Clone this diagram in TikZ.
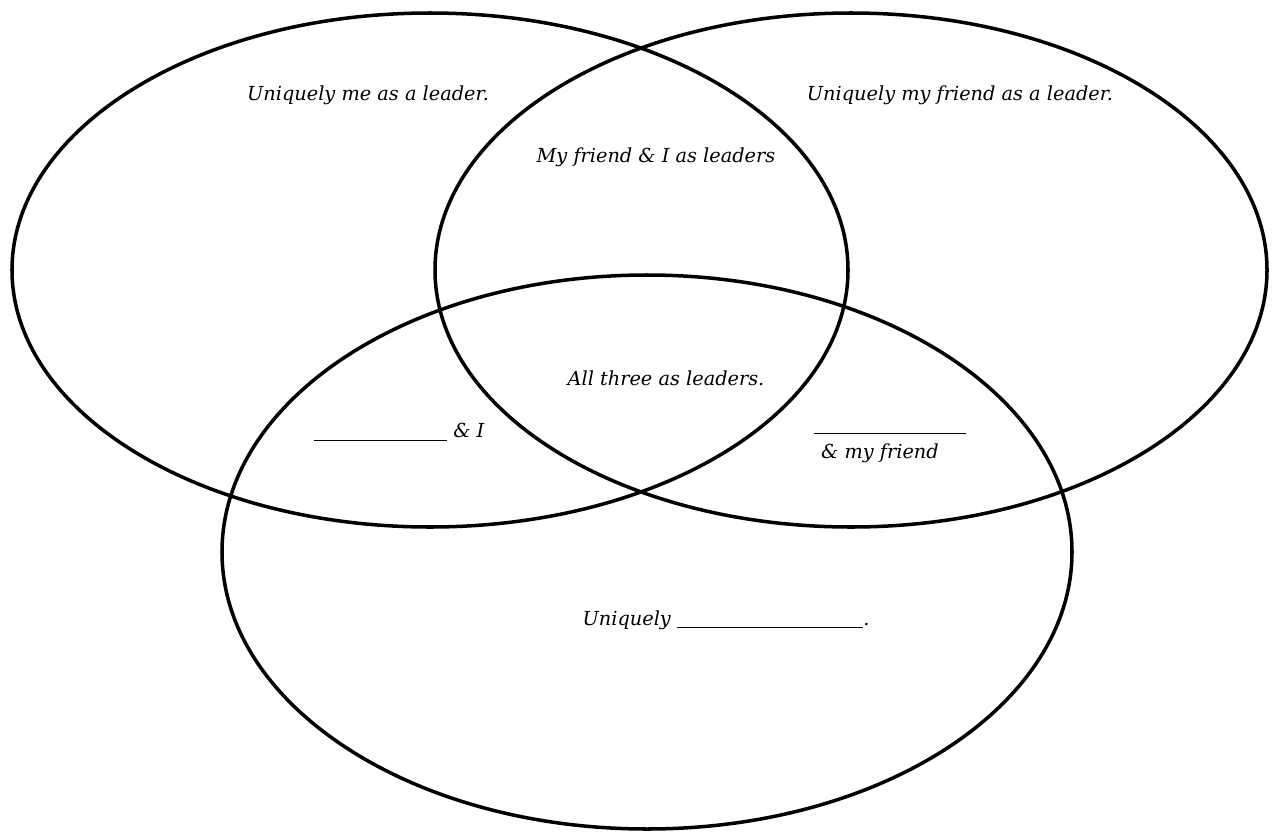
\documentclass[tikz,border=0pt]{standalone}
\usepackage{fontspec}
\setmainfont{DejaVu Serif}
\newcommand\vennunit{0.02cm}
\newcommand\vennline{2pt}
\newcommand\blank[1]{\rule[-1.5pt]{#1}{0.5pt}}

\begin{document}
\begin{tikzpicture}[
x=\vennunit,y=-\vennunit,
ring/.style={draw=black,line width=\vennline},
label/.style={font=\itshape\fontsize{11}{13}\selectfont,inner sep=0pt}
]
\useasboundingbox (0,0) rectangle (1275,832);
%\draw[help lines,step=100] (0,0) grid (1275,832);
\draw[ring] (430,270) ellipse (418 and 257);
\draw[ring] (851,270) ellipse (416 and 257);
\draw[ring] (647,552) ellipse (425 and 277);

\node (me) at (368,95) [label] {Uniquely me as a leader.};
\node (friend) at (960,95) [label] {Uniquely my friend as a leader.};
\node (meFriend) at (656,157) [label] {My friend \& I as leaders};
\node (allThree) at (666,378) [label] {All three as leaders.};
\node (blankMe) at (399,432) [label] {\blank{76pt} \& I};
\node (blankLine) at (890,433) [label] {\blank{86pt}};
\node (blankFriend) at (880,453) [label] {\& my friend};
\node (third) at (726,620) [label] {Uniquely \blank{106pt}.};
\end{tikzpicture}
\end{document}
